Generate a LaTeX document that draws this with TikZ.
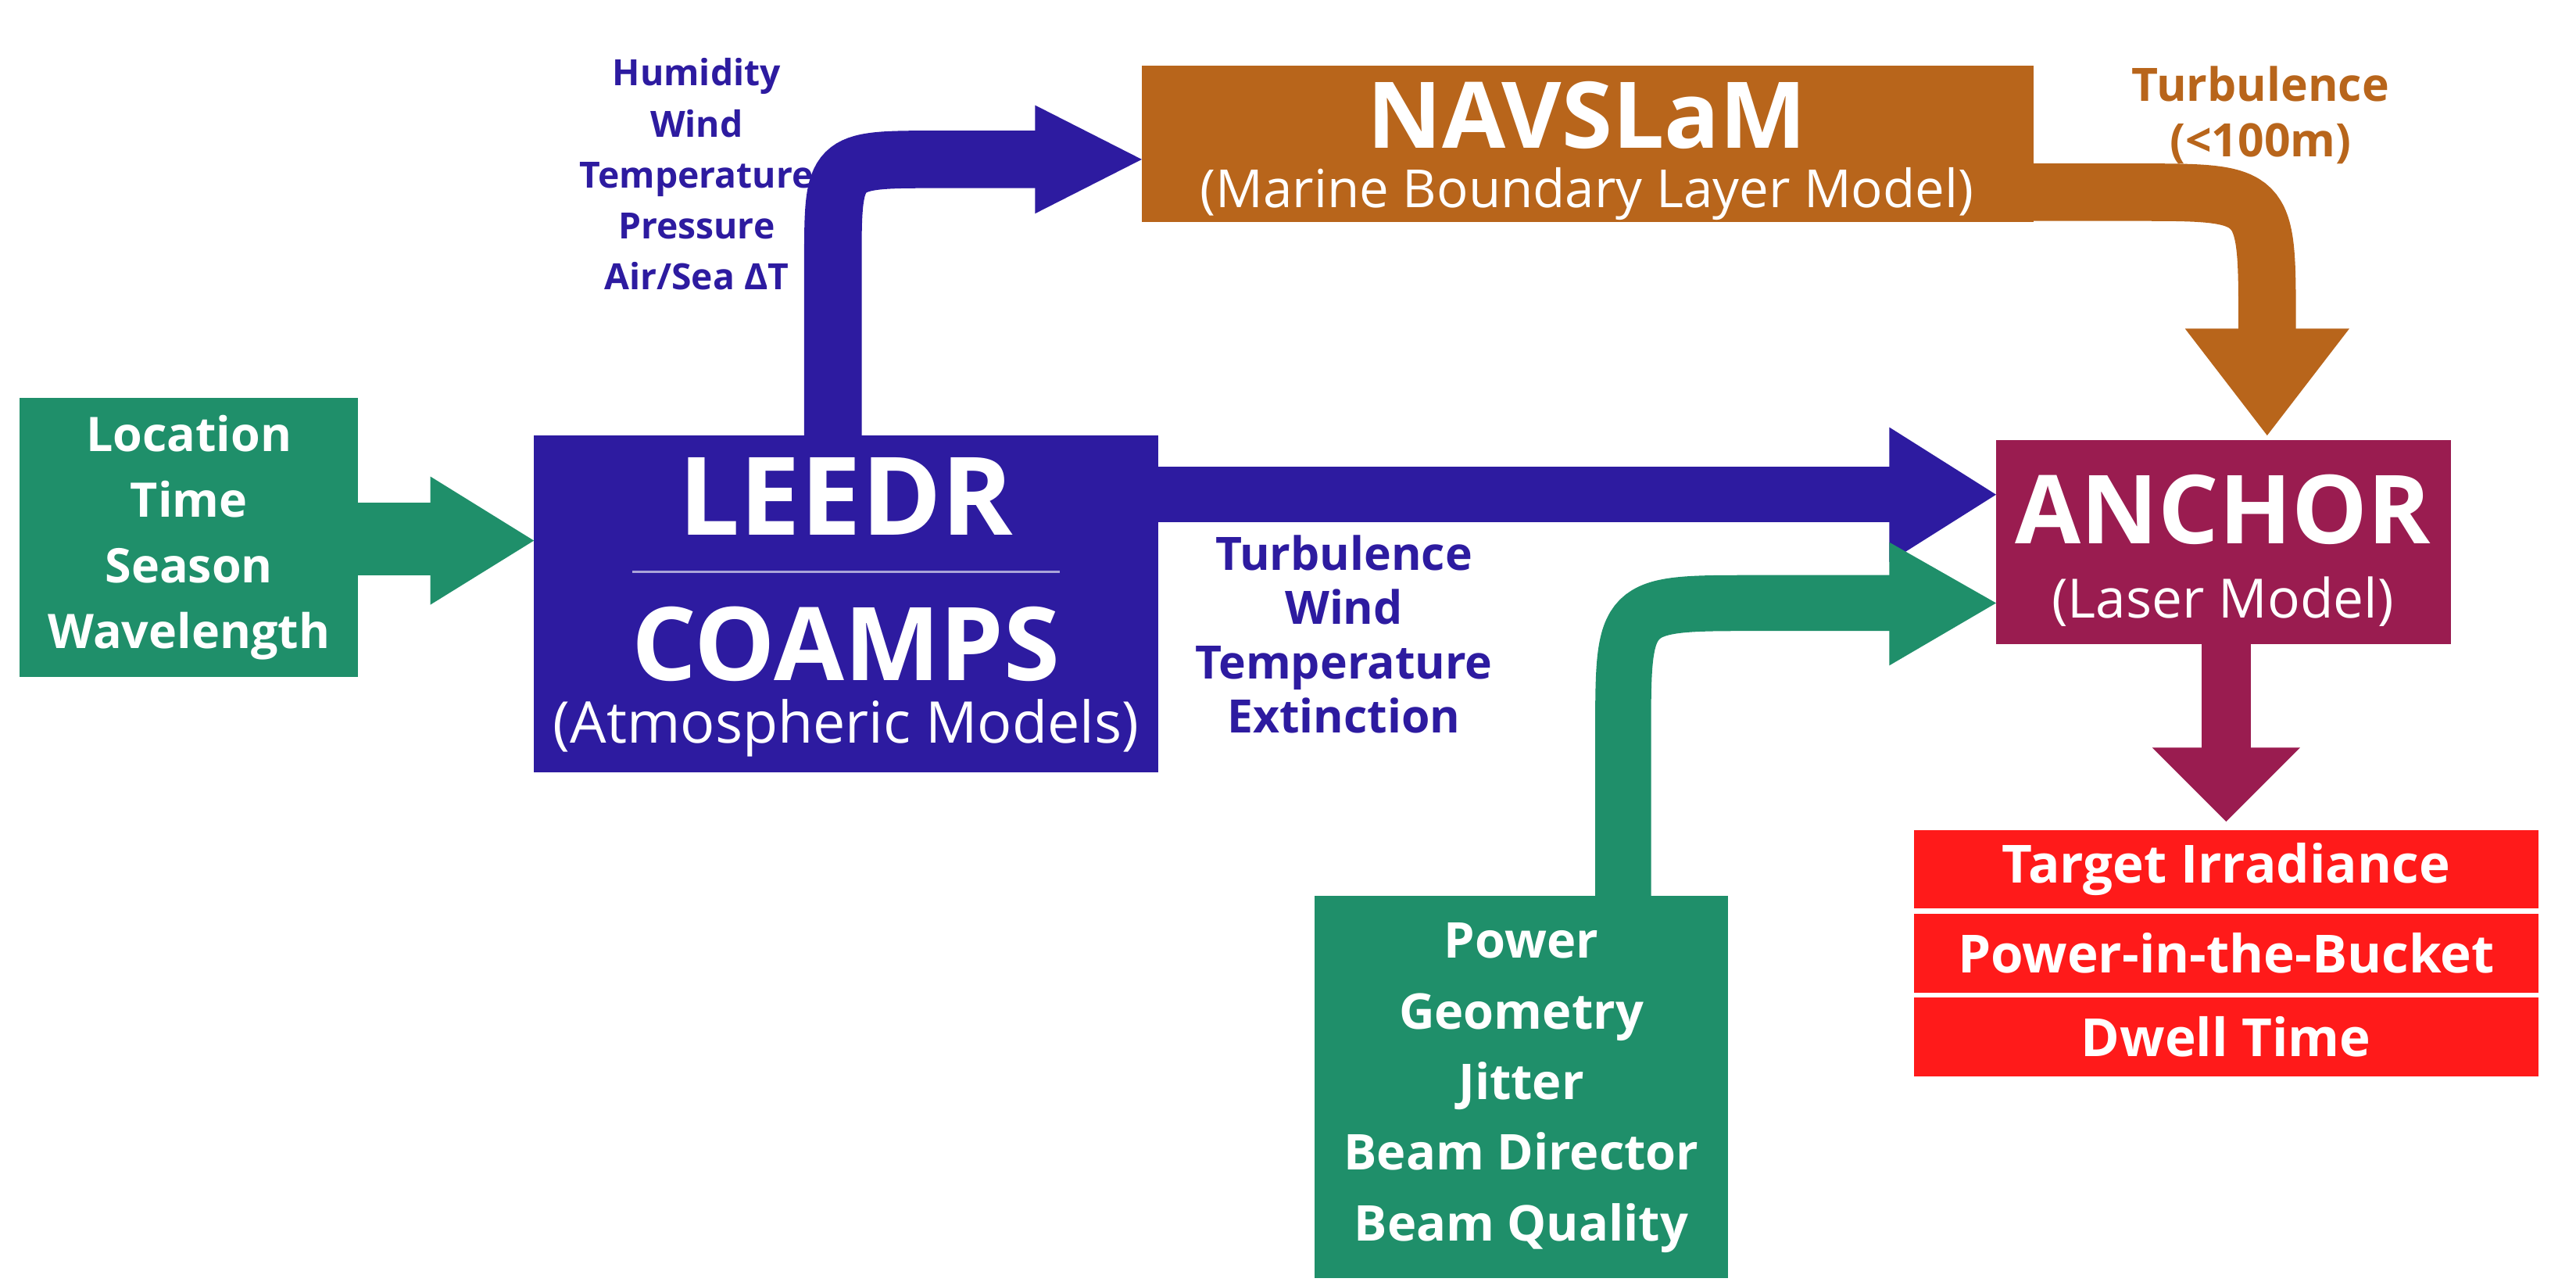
\documentclass[tikz,border=0pt]{standalone}
\usepackage{fontspec}
\setmainfont{Open Sans}
\definecolor{cgreen}{HTML}{1F8F6A}
\definecolor{cblue}{HTML}{2D1BA0}
\definecolor{cbrown}{HTML}{B8651B}
\definecolor{cmaroon}{HTML}{9A1C50}
\definecolor{cred}{HTML}{FF1A1A}
\begin{document}
\begin{tikzpicture}[x=1pt,y=-1pt,
  box/.style={draw=none,inner sep=0,text=white,font=\bfseries,align=center},
  shaft/.style={line width=#1}]
\useasboundingbox (0,0) rectangle (1568,780);
% boxes
\fill[cgreen] (12,242) rectangle (218,412);
\node[box,font=\bfseries\fontsize{29}{40}\selectfont] (loc) at (115,327) {Location\\Time\\Season\\Wavelength};
\fill[cblue] (325,265) rectangle (705,470);
\node[box,font=\bfseries\fontsize{66}{70}\selectfont] (leedr) at (515,302) {LEEDR};
\draw[white!60!cblue,line width=1.5] (385,348) -- (645,348);
\node[box,font=\bfseries\fontsize{62}{66}\selectfont] (coamps) at (515,392) {COAMPS};
\node[box,font=\fontsize{35}{40}\selectfont] (atm) at (515,443) {(Atmospheric Models)};
\fill[cbrown] (695,40) rectangle (1238,135);
\node[box,font=\bfseries\fontsize{56}{60}\selectfont] (nav) at (966,70) {NAVSLaM};
\node[box,font=\fontsize{32}{36}\selectfont] (mbl) at (966,118) {(Marine Boundary Layer Model)};
\fill[cmaroon] (1215,268) rectangle (1492,392);
\node[box,font=\bfseries\fontsize{58}{62}\selectfont] (anchor) at (1353,310) {ANCHOR};
\node[box,font=\fontsize{33}{38}\selectfont] (laser) at (1353,366) {(Laser Model)};
\fill[cred] (1165,505) rectangle (1545,553);
\fill[cred] (1165,556) rectangle (1545,604);
\fill[cred] (1165,607) rectangle (1545,655);
\node[box,font=\bfseries\fontsize{32}{36}\selectfont] (t1) at (1355,529) {Target Irradiance};
\node[box,font=\bfseries\fontsize{32}{36}\selectfont] (t2) at (1355,580) {Power-in-the-Bucket};
\node[box,font=\bfseries\fontsize{32}{36}\selectfont] (t3) at (1355,631) {Dwell Time};
\fill[cgreen] (800,545) rectangle (1052,778);
\node[box,font=\bfseries\fontsize{30}{43}\selectfont] (pow) at (926,662) {Power\\Geometry\\Jitter\\Beam Director\\Beam Quality};
% arrows
\fill[cgreen] (218,306) rectangle (263,350);
\fill[cgreen] (262,290) -- (325,329) -- (262,368) -- cycle;
\fill[cblue] (705,284) rectangle (1151,318);
\fill[cblue] (1150,260) -- (1215,301) -- (1150,342) -- cycle;
\draw[cblue,shaft=35] (507,266) -- (507,160) .. controls (507,97) .. (570,97) -- (631,97);
\fill[cblue] (630,64) -- (695,97) -- (630,130) -- cycle;
\draw[cbrown,shaft=35] (1237,117) -- (1300,117) .. controls (1380,117) .. (1380,197) -- (1380,201);
\fill[cbrown] (1330,200) -- (1380,265) -- (1430,200) -- cycle;
\draw[cgreen,shaft=34] (988,546) -- (988,447) .. controls (988,367) .. (1068,367) -- (1151,367);
\fill[cgreen] (1150,330) -- (1215,367) -- (1150,405) -- cycle;
\fill[cmaroon] (1340,391) rectangle (1370,456);
\fill[cmaroon] (1310,455) -- (1355,500) -- (1400,455) -- cycle;
% labels
\node[align=center,font=\bfseries\fontsize{22}{31}\selectfont,text=cblue] (l1) at (424,106) {Humidity\\Wind\\Temperature\\Pressure\\Air/Sea ΔT};
\node[align=center,font=\bfseries\fontsize{28}{33}\selectfont,text=cblue] (l2) at (818,386) {Turbulence\\Wind\\Temperature\\Extinction};
\node[align=center,font=\bfseries\fontsize{28}{34}\selectfont,text=cbrown] (l3) at (1376,70) {Turbulence\\(<100m)};
\end{tikzpicture}
\end{document}
